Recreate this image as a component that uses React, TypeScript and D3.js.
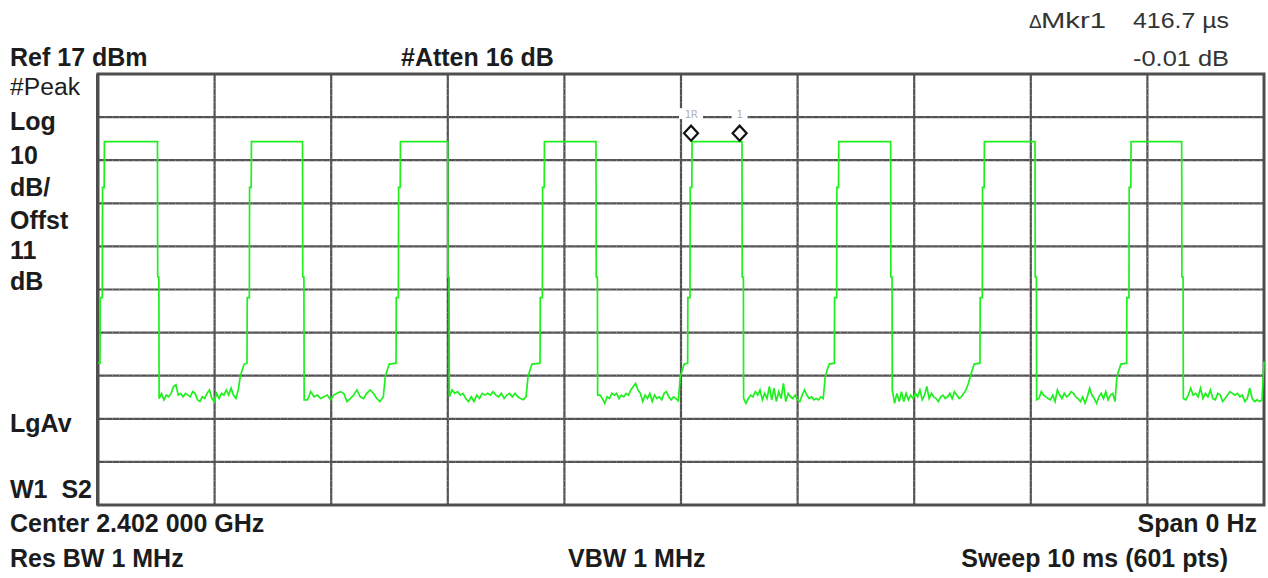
import React from 'react';
import * as d3 from 'd3';

const W = 1268;
const H = 578;

// Instrument settings
const sweepMs = [0, 10];
const refLevelDbm = 17;
const dbPerDiv = 10;
const divisions = 10;

// Pulse edges (ms)
const riseMs = [0.017, 1.278, 2.556, 3.791, 5.057, 6.315, 7.564, 8.822];
const fallMs = [0.51, 1.754, 2.999, 4.271, 5.523, 6.798, 8.036, 9.294];
const noiseEndMs = [1.203, 2.447, 3.671, 4.977, 6.22, 7.464, 8.722, 9.983];
const topDbm = [1.3, 1.3, 1.3, 1.3, 1.3, 1.3, 1.3, 1.3];
const startDbm = -50;
const endDbm = -49.7;
const riseStepsDbm = [-34.9, -9.3];
const fallStepDbm = -30.1;
const rampDbm = [-53.2, -51.7, -50.3, -50.1];

// Noise floor between pulses (dBm)
const noise1 = [-58.3, -57.1, -58.6, -57.5, -57.9, -57.1, -55.5, -55.1, -57.5, -57.1, -57.9, -57.1, -57.5, -57.9, -56.7, -57.1, -58.6, -59.0, -57.9, -58.3, -57.1, -56.3, -58.3, -59.0, -57.1, -58.3, -57.1, -57.5, -56.3, -57.5, -55.9, -57.5, -58.3, -56.3];
const noise2 = [-58.6, -58.6, -56.7, -57.9, -57.5, -58.3, -57.9, -57.5, -58.6, -57.5, -57.1, -56.7, -57.1, -59.0, -58.3, -57.5, -56.3, -57.9, -58.3, -57.1, -56.3, -57.1, -58.3, -59.0, -57.9];
const noise3 = [-57.9, -56.3, -57.1, -56.7, -57.5, -57.1, -58.3, -59.0, -57.9, -59.0, -57.5, -58.3, -57.1, -57.5, -57.1, -57.5, -56.7, -57.5, -57.9, -57.1, -58.3, -57.5, -57.1, -57.9, -57.1, -57.9, -58.3, -58.6, -57.9];
const noise4 = [-57.5, -57.5, -58.3, -59.4, -57.9, -58.3, -57.1, -57.5, -57.1, -58.3, -57.5, -57.9, -57.1, -57.5, -56.3, -55.5, -54.8, -56.3, -57.1, -59.0, -57.5, -58.3, -57.1, -59.0, -57.5, -58.3, -57.9, -58.6, -57.1, -56.7, -57.9, -58.6, -57.9, -58.3, -58.8];
const noise5 = [-58.3, -59.4, -58.3, -57.5, -57.9, -56.7, -57.5, -56.3, -58.6, -57.1, -58.3, -55.5, -58.6, -55.9, -59.0, -56.7, -58.3, -54.8, -59.0, -57.1, -57.9, -58.3, -57.5, -58.6, -59.0, -57.5, -56.3, -57.5, -58.3, -57.9, -58.6, -58.3, -58.6, -57.9, -58.3];
const noise6 = [-56.3, -59.4, -57.1, -59.0, -56.7, -59.0, -57.1, -58.6, -57.5, -58.3, -57.1, -57.9, -56.3, -58.6, -57.5, -55.5, -58.3, -57.1, -57.9, -58.3, -59.0, -57.9, -57.5, -58.3, -57.9, -57.1, -58.3, -56.7, -57.5, -58.3, -57.9, -57.1, -56.3, -54.8];
const noise7 = [-58.6, -58.3, -56.7, -57.5, -57.9, -58.3, -58.6, -57.5, -59.0, -56.3, -57.5, -58.3, -57.1, -57.9, -57.5, -56.7, -57.1, -57.9, -58.3, -59.0, -57.9, -59.4, -57.9, -55.9, -57.5, -58.3, -59.4, -57.9, -57.1, -58.3, -56.7, -58.6, -57.5, -57.1, -59.0];
const noise8 = [-58.3, -58.6, -57.5, -55.9, -57.5, -57.1, -57.9, -55.9, -58.3, -57.1, -57.9, -56.3, -58.3, -58.6, -57.1, -57.5, -59.0, -58.3, -57.5, -56.7, -57.1, -57.5, -57.1, -57.9, -57.5, -59.0, -58.3, -55.9, -58.3, -59.0, -58.6, -59.0, -58.6];
const noiseGaps = [noise1, noise2, noise3, noise4, noise5, noise6, noise7, noise8];

// Delta marker
const markerRefMs = 5.086;
const markerDeltaMs = 0.4167;
const markerLabels = ['1R', '1'];

// Annotation texts
const headerLeft = 'Ref 17 dBm';
const headerMid = '#Atten 16 dB';
const mkrLabel = 'Mkr1';
const mkrTime = '416.7 µs';
const mkrLevel = '-0.01 dB';
const sideLabels = [
  { t: '#Peak', bold: false, y: 95 },
  { t: 'Log', bold: true, y: 130 },
  { t: '10', bold: true, y: 164 },
  { t: 'dB/', bold: true, y: 196 },
  { t: 'Offst', bold: true, y: 229 },
  { t: '11', bold: true, y: 259 },
  { t: 'dB', bold: true, y: 290 },
  { t: 'LgAv', bold: true, y: 432 },
  { t: 'W1\u00a0\u00a0S2', bold: true, y: 498 },
];
const footer = [
  { t: 'Center 2.402 000 GHz', x: 10, y: 532, anchor: 'start' },
  { t: 'Span 0 Hz', x: 1257, y: 532, anchor: 'end' },
  { t: 'Res BW 1 MHz', x: 10, y: 567, anchor: 'start' },
  { t: 'VBW 1 MHz', x: 568, y: 567, anchor: 'start' },
  { t: 'Sweep 10 ms (601 pts)', x: 1228, y: 567, anchor: 'end' },
];

const FONT = '"Liberation Sans", Arial, Helvetica, sans-serif';

export default function App() {
  const x = d3.scaleLinear().domain(sweepMs).range([98, 1264]);
  const y = d3
    .scaleLinear()
    .domain([refLevelDbm - dbPerDiv * divisions, refLevelDbm])
    .range([505, 74]);

  // Build trace vertices from the read edges and noise values
  const pts: [number, number][] = [[sweepMs[0], startDbm]];
  riseMs.forEach((r, k) => {
    const top = topDbm[k];
    const f = fallMs[k];
    pts.push([r, rampDbm[rampDbm.length - 1]]);
    pts.push([r + 0.002, riseStepsDbm[0]]);
    pts.push([r + 0.02, riseStepsDbm[0]]);
    pts.push([r + 0.022, riseStepsDbm[1]]);
    pts.push([r + 0.036, riseStepsDbm[1]]);
    pts.push([r + 0.038, top]);
    pts.push([f, top]);
    pts.push([f + 0.002, fallStepDbm]);
    pts.push([f + 0.012, fallStepDbm]);
    const nz = noiseGaps[k];
    const s = f + 0.014;
    const e = noiseEndMs[k];
    nz.forEach((v, i) => pts.push([s + ((e - s) * i) / (nz.length - 1), v]));
    if (k < riseMs.length - 1) {
      rampDbm.slice(0, 3).forEach((v, j) => pts.push([e + 0.017 * (j + 1), v]));
    } else {
      pts.push([sweepMs[1], endDbm]);
    }
  });

  const line = d3
    .line<[number, number]>()
    .x((d) => x(d[0]))
    .y((d) => y(d[1]));

  const xTicks = d3.range(0, divisions + 1).map((i) => sweepMs[0] + (i * (sweepMs[1] - sweepMs[0])) / divisions);
  const yTicks = d3.range(0, divisions + 1).map((i) => refLevelDbm - i * dbPerDiv);

  const markerTimes = [markerRefMs, markerRefMs + markerDeltaMs];
  const markerLevel = topDbm[4];

  const x0 = x(sweepMs[0]);
  const x1 = x(sweepMs[1]);
  const yTop = y(refLevelDbm);
  const yBot = y(refLevelDbm - dbPerDiv * divisions);

  return (
    <svg
      width={W}
      height={H}
      viewBox={`0 0 ${W} ${H}`}
      style={{ position: 'absolute', left: 0, top: 0, background: '#fff' }}
      fontFamily={FONT}
    >
      <rect x={0} y={0} width={W} height={H} fill="#ffffff" />
      {/* grid */}
      <g>
        {xTicks.slice(1, -1).map((t) => (
          <g key={'vx' + t}>
            <line x1={x(t)} x2={x(t)} y1={yTop} y2={yBot} stroke="#535353" strokeWidth={2.2} />
            <line x1={x(t)} x2={x(t)} y1={yTop} y2={yBot} stroke="#8f8f8f" strokeWidth={1} strokeDasharray="1 6" />
          </g>
        ))}
        {yTicks.slice(1, -1).map((v) => (
          <g key={'hy' + v}>
            <line x1={x0} x2={x1} y1={y(v)} y2={y(v)} stroke="#535353" strokeWidth={2.2} />
            <line x1={x0} x2={x1} y1={y(v)} y2={y(v)} stroke="#8f8f8f" strokeWidth={1} strokeDasharray="1 6" />
          </g>
        ))}
        <rect x={x0} y={yTop} width={x1 - x0} height={yBot - yTop} fill="none" stroke="#4e4e4e" strokeWidth={3} />
        <line x1={x0 - 1} x2={x0 - 1} y1={yTop} y2={yBot} stroke="#4e4e4e" strokeWidth={2} />
      </g>

      {/* marker labels breaking the first grid line */}
      {markerTimes.map((t, i) => {
        const lbl = markerLabels[i];
        const w = lbl.length * 8 + 8;
        return (
          <g key={'ml' + i}>
            <rect x={x(t) - w / 2} y={y(refLevelDbm - dbPerDiv) - 9} width={w} height={11} fill="#fff" />
            <text
              x={x(t)}
              y={y(refLevelDbm - dbPerDiv) + 0.5}
              textAnchor="middle"
              fontSize={11}
              fill="#b4b4b4"
              fontFamily='"DejaVu Sans Mono", monospace'
            >
              {lbl}
            </text>
          </g>
        );
      })}

      {/* trace */}
      <path d={line(pts) || ''} fill="none" stroke="#1ef01e" strokeWidth={1.7} strokeLinejoin="miter" />

      {/* markers */}
      {markerTimes.map((t, i) => {
        const cx = x(t);
        const by = y(markerLevel) - 1;
        const h = 15;
        const hw = 7;
        return (
          <path
            key={'mk' + i}
            d={`M${cx},${by} L${cx + hw},${by - h / 2} L${cx},${by - h} L${cx - hw},${by - h / 2} Z`}
            fill="#fff"
            stroke="#111"
            strokeWidth={2.2}
          />
        );
      })}

      {/* header */}
      <text x={10} y={66} fontSize={25} fontWeight="bold" fill="#1c1c1c">{headerLeft}</text>
      <text x={401} y={66} fontSize={25} fontWeight="bold" fill="#1c1c1c">{headerMid}</text>
      <text x={1029} y={28} fontSize={19} fill="#333">Δ</text>
      <text x={1041} y={28} fontSize={22} fill="#333" textLength={65} lengthAdjust="spacingAndGlyphs">{mkrLabel}</text>
      <text x={1133} y={28} fontSize={22} fill="#333" textLength={96} lengthAdjust="spacingAndGlyphs">{mkrTime}</text>
      <text x={1133} y={66} fontSize={22} fill="#333" textLength={96} lengthAdjust="spacingAndGlyphs">{mkrLevel}</text>

      {/* side labels */}
      {sideLabels.map((s) => (
        <text
          key={s.t}
          x={10}
          y={s.y}
          fontSize={s.bold ? 25 : 23}
          fontWeight={s.bold ? 'bold' : 'normal'}
          fill="#1c1c1c"
          textLength={s.bold ? undefined : 70}
          lengthAdjust="spacingAndGlyphs"
        >
          {s.t}
        </text>
      ))}

      {/* footer */}
      {footer.map((f) => (
        <text
          key={f.t}
          x={f.x}
          y={f.y}
          fontSize={25}
          fontWeight="bold"
          fill="#1c1c1c"
          textAnchor={f.anchor as any}
        >
          {f.t}
        </text>
      ))}
    </svg>
  );
}
